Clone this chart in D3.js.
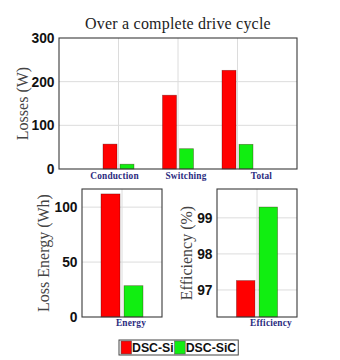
<!DOCTYPE html>
<html><head><meta charset="utf-8">
<script src="https://cdn.jsdelivr.net/npm/d3@7"></script>
<style>body{margin:0;background:#fff}svg{display:block}</style>
</head><body>
<script>
// ---- data ----
const seriesNames = ["DSC-Si", "DSC-SiC"];
const lossCategories = ["Conduction", "Switching", "Total"];
const lossSi = [57, 169, 226];
const lossSiC = [11, 46.5, 56.5];
const lossTicks = [0, 100, 200, 300];
const energyCategories = ["Energy"];
const energySi = [112];
const energySiC = [28.5];
const energyTicks = [0, 50, 100];
const effCategories = ["Efficiency"];
const effSi = [97.26];
const effSiC = [99.3];
const effTicks = [97, 98, 99];
const titleText = "Over a complete drive cycle";

// ---- style ----
const colors = ["#ff0000", "#11ee11"];
const W = 340, H = 360;
const svg = d3.select("body").append("svg").attr("width", W).attr("height", H);
svg.append("rect").attr("width", W).attr("height", H).attr("fill", "#fff");

function panel(opts) {
  const {x0, x1, y0, y1, yDomain, ticks, cats, si, sic, barW, off, labelNudge, labelY, ylabel, ylabelX} = opts;
  const x = d3.scaleLinear().domain([0, cats.length + 1]).range([x0, x1]);
  const y = d3.scaleLinear().domain(yDomain).range([y1, y0]);
  const g = svg.append("g");
  // grid
  g.selectAll(".hg").data(ticks.filter(t => t > yDomain[0] && t < yDomain[1])).join("line")
    .attr("x1", x0).attr("x2", x1).attr("y1", d => y(d)).attr("y2", d => y(d))
    .attr("stroke", "#dcdcdc").attr("stroke-width", 1);
  g.selectAll(".vg").data(cats).join("line")
    .attr("x1", (d, i) => x(i + 1)).attr("x2", (d, i) => x(i + 1))
    .attr("y1", y0).attr("y2", y1).attr("stroke", "#dcdcdc").attr("stroke-width", 1);
  // bars
  [si, sic].forEach((vals, s) => {
    g.selectAll(".b" + s).data(vals).join("rect")
      .attr("x", (d, i) => x(i + 1) + (s === 0 ? -off : off) - barW / 2)
      .attr("width", barW)
      .attr("y", d => y(d))
      .attr("height", d => y(yDomain[0]) - y(d))
      .attr("fill", colors[s])
      .attr("stroke", "rgba(60,0,0,0.45)").attr("stroke-width", 0.7);
  });
  // box
  g.append("rect").attr("x", x0).attr("y", y0).attr("width", x1 - x0).attr("height", y1 - y0)
    .attr("fill", "none").attr("stroke", "#3a3a3a").attr("stroke-width", 1.1);
  // y axis tick labels via d3 axis
  const ax = g.append("g").attr("transform", `translate(${x0},0)`)
    .call(d3.axisLeft(y).tickValues(ticks).tickSize(0).tickPadding(4.5).tickFormat(d3.format("d")));
  ax.select(".domain").remove();
  ax.selectAll("text").attr("font-family", "Liberation Sans, Arial, sans-serif")
    .attr("font-weight", "bold").attr("font-size", 13.8).attr("fill", "#111");
  // category labels
  g.selectAll(".cl").data(cats).join("text")
    .attr("x", (d, i) => x(i + 1) + labelNudge[i]).attr("y", labelY)
    .attr("text-anchor", "middle")
    .attr("font-family", "Liberation Serif, Times New Roman, serif")
    .attr("font-weight", "bold").attr("font-size", 9.3).attr("fill", "#2b2b7e")
    .attr("letter-spacing", 0.2)
    .text(d => d);
  // y label
  g.append("text").attr("transform", `translate(${ylabelX},${(y0 + y1) / 2}) rotate(-90)`)
    .attr("text-anchor", "middle")
    .attr("font-family", "Liberation Serif, Times New Roman, serif")
    .attr("font-size", 16).attr("fill", "#444").text(ylabel);
}

panel({x0: 59, x1: 297, y0: 38, y1: 169, yDomain: [0, 300], ticks: lossTicks,
  cats: lossCategories, si: lossSi, sic: lossSiC, barW: 14, off: 8.5,
  labelNudge: [-4, 8, 24], labelY: 179, ylabel: "Losses (W)", ylabelX: 28});
panel({x0: 82, x1: 162, y0: 189, y1: 317, yDomain: [0, 116.5], ticks: energyTicks,
  cats: energyCategories, si: energySi, sic: energySiC, barW: 19, off: 11.5,
  labelNudge: [9], labelY: 326, ylabel: "Loss Energy (Wh)", ylabelX: 49});
panel({x0: 217, x1: 297, y0: 189, y1: 317, yDomain: [96.25, 99.8], ticks: effTicks,
  cats: effCategories, si: effSi, sic: effSiC, barW: 18.5, off: 11.3,
  labelNudge: [14], labelY: 326, ylabel: "Efficiency (%)", ylabelX: 192});

// title
svg.append("text").attr("x", 178).attr("y", 29).attr("text-anchor", "middle")
  .attr("font-family", "Liberation Serif, Times New Roman, serif")
  .attr("font-size", 16).attr("letter-spacing", 0.2).attr("fill", "#222").text(titleText);

// legend
const lg = svg.append("g");
const lx = 119, ly = 340, lh = 15;
let cx = lx + 2;
seriesNames.forEach((name, i) => {
  lg.append("rect").attr("x", cx).attr("y", ly + 1).attr("width", 10.5).attr("height", lh - 2)
    .attr("fill", colors[i]).attr("stroke", "#555").attr("stroke-width", 0.6);
  cx += 11;
  const t = lg.append("text").attr("x", cx).attr("y", ly + 12.3)
    .attr("font-family", "Liberation Sans, Arial, sans-serif").attr("font-weight", "bold")
    .attr("font-size", 12.3).attr("fill", "#111").text(name);
  cx += t.node().getComputedTextLength() + 1;
});
lg.insert("rect", ":first-child").attr("x", lx).attr("y", ly).attr("width", cx - lx + 1).attr("height", lh)
  .attr("fill", "#fff").attr("stroke", "#444").attr("stroke-width", 1);
</script>
</body></html>
